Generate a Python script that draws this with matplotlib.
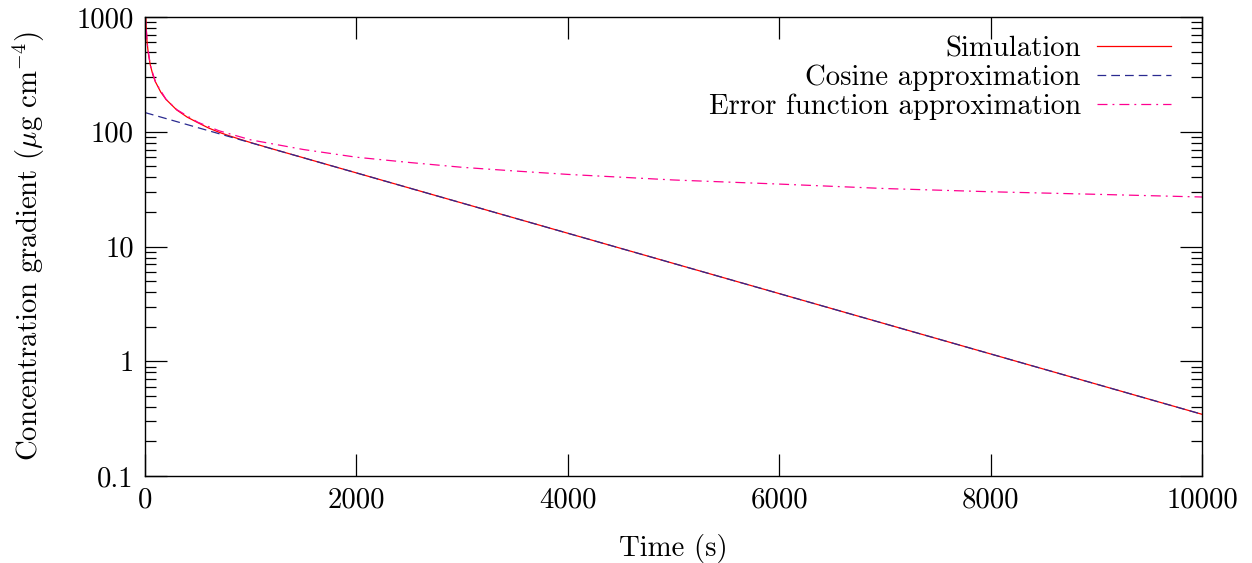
# Concentration gradient decay - simulation vs analytic approximations

import matplotlib
matplotlib.use('Agg')
import matplotlib.pyplot as plt
from matplotlib.ticker import FixedLocator, LogLocator, NullFormatter, FuncFormatter

plt.rcParams['font.family'] = 'cmr10'
plt.rcParams['mathtext.fontset'] = 'cm'
plt.rcParams['axes.unicode_minus'] = False
plt.rcParams['axes.formatter.use_mathtext'] = True

# Values
sim_t = [2, 10, 20, 30, 50, 75, 100, 150, 200, 300, 400, 500, 600, 700,
         800, 900, 1000, 1200, 10000]
sim_g = [1900, 850, 600, 495, 382, 312, 271, 221, 191, 155, 134, 120, 108, 99,
         92, 86, 80.5, 71.1, 0.345]

cos_t = [0, 10000]
cos_g = [147, 0.345]

erf_t = [5, 10, 20, 50, 100, 200, 300, 500, 700, 1000, 1500, 2000, 2500, 3000,
         3500, 4000, 5000, 6000, 7000, 8000, 9000, 10000]
erf_g = [1210, 850, 600, 380, 270, 191, 156, 121, 102, 85, 70, 60, 54, 49,
         45.5, 42.5, 38, 35, 32, 30, 28.5, 27]

x_ticks = [0, 2000, 4000, 6000, 8000, 10000]
y_ticks = [0.1, 1, 10, 100, 1000]

fs = 20.7

fig = plt.figure(figsize=(12.52, 5.63), dpi=100)
ax = fig.add_axes([0.1158, 0.1545, 0.9601 - 0.1158, 0.9698 - 0.1545])

ax.plot(sim_t, sim_g, color='#ff0000', lw=0.9, label='Simulation')
ax.plot(cos_t, cos_g, color='#2a2a90', lw=0.9, dashes=(7, 4),
        label='Cosine approximation')
ax.plot(erf_t, erf_g, color='#ff0090', lw=0.9, dashes=(8, 4, 1.5, 4),
        label='Error function approximation')

ax.set_yscale('log')
ax.set_xlim(0, 10000)
ax.set_ylim(0.1, 1000)

ax.xaxis.set_major_locator(FixedLocator(x_ticks))
ax.yaxis.set_major_locator(FixedLocator(y_ticks))
ax.yaxis.set_minor_locator(LogLocator(base=10, subs=range(2, 10)))
ax.yaxis.set_minor_formatter(NullFormatter())
ax.xaxis.set_major_formatter(FuncFormatter(lambda v, p: '%d' % v))
ax.yaxis.set_major_formatter(FuncFormatter(lambda v, p: '%g' % v))

ax.tick_params(which='both', direction='in', top=True, right=True,
               labelsize=fs, width=0.9)
ax.tick_params(which='major', length=16, pad=8)
ax.tick_params(which='minor', length=8)
for s in ax.spines.values():
    s.set_linewidth(1.0)

ax.set_xlabel('Time (s)', fontsize=fs, labelpad=15)
ax.set_ylabel(r'Concentration gradient ($\mu$g cm$^{-4}$)', fontsize=fs,
              labelpad=22)

ax.legend(loc='upper right', bbox_to_anchor=(0.9845, 0.99), frameon=False,
          markerfirst=False, fontsize=fs, handlelength=2.6,
          handletextpad=0.55, labelspacing=0.08, borderpad=0)

fig.savefig('out.png', dpi=100)
